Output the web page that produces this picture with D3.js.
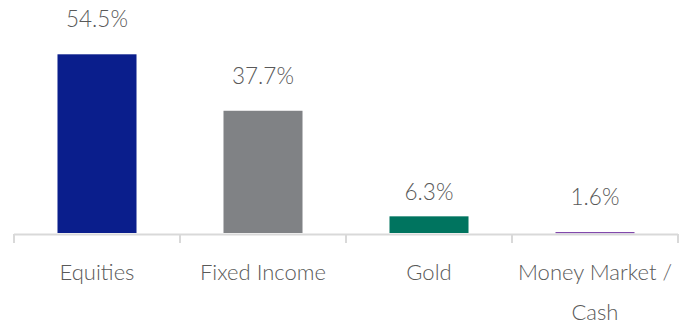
<!DOCTYPE html>
<html>
<head>
<meta charset="utf-8">
<script src="https://cdn.jsdelivr.net/npm/d3@7"></script>
<style>
  body { margin: 0; background: #fff; }
  text { font-family: Lato, "Open Sans", sans-serif; font-weight: 300; fill: #595959; }
</style>
</head>
<body>
<svg id="chart"></svg>
<script>
// chart data
const categories = ['Equities', 'Fixed Income', 'Gold', 'Money Market / Cash'];
const values = [54.5, 37.7, 6.3, 1.6];
const colors = ['#0a1e8c', '#808285', '#00745f', '#7030a0'];

const width = 686, height = 325;
const baseY = 233;

const svg = d3.select('#chart')
    .attr('width', width)
    .attr('height', height);

const x = d3.scaleBand()
    .domain(categories)
    .range([14, 678])
    .padding(0);

// baseline of the value axis sits a little above zero in the original
const y = d3.scaleLinear()
    .domain([1.34, d3.max(values)])
    .range([baseY, 54.3]);

const barW = x.bandwidth() * 0.476;
const data = categories.map((c, i) => ({ cat: c, value: values[i], color: colors[i] }));

// axis line + ticks at the band edges
const axisG = svg.append('g');
axisG.append('line')
    .attr('x1', x.range()[0]).attr('x2', x.range()[1])
    .attr('y1', baseY + 1.5).attr('y2', baseY + 1.5)
    .attr('stroke', '#d9d9d9').attr('stroke-width', 2);

const edges = categories.map(c => x(c)).concat([x.range()[1]]);
axisG.selectAll('.tick')
    .data(edges)
    .join('line')
    .attr('class', 'tick')
    .attr('x1', d => d).attr('x2', d => d)
    .attr('y1', baseY + 1).attr('y2', baseY + 10)
    .attr('stroke', '#d9d9d9').attr('stroke-width', 2);

// bars
svg.selectAll('.bar')
    .data(data)
    .join('rect')
    .attr('class', 'bar')
    .attr('x', d => x(d.cat) + (x.bandwidth() - barW) / 2)
    .attr('y', d => y(d.value))
    .attr('width', barW)
    .attr('height', d => Math.max(1, baseY - y(d.value)))
    .attr('fill', d => d.color);

// value labels
svg.selectAll('.val')
    .data(data)
    .join('text')
    .attr('class', 'val')
    .attr('x', d => x(d.cat) + x.bandwidth() / 2)
    .attr('y', d => y(d.value) - (d.cat === 'Gold' ? 16 : 27))
    .attr('text-anchor', 'middle')
    .style('font-size', '22.5px')
    .text(d => d.value.toFixed(1) + '%');

// category labels, wrapped to the band width
const catText = svg.selectAll('.cat')
    .data(categories)
    .join('text')
    .attr('class', 'cat')
    .attr('text-anchor', 'middle')
    .style('font-size', '22px');

catText.each(function (c) {
    const t = d3.select(this);
    const cx = x(c) + x.bandwidth() / 2;
    const words = c.split(' ');
    let line = [];
    let lineNo = 0;
    let tspan = t.append('tspan').attr('x', cx).attr('y', 280);
    words.forEach(w => {
        line.push(w);
        tspan.text(line.join(' '));
        if (tspan.node().getComputedTextLength() > x.bandwidth() - 4 && line.length > 1) {
            line.pop();
            tspan.text(line.join(' '));
            line = [w];
            lineNo++;
            tspan = t.append('tspan').attr('x', cx).attr('y', 280 + lineNo * 40).text(w);
        }
    });
});
</script>
</body>
</html>
